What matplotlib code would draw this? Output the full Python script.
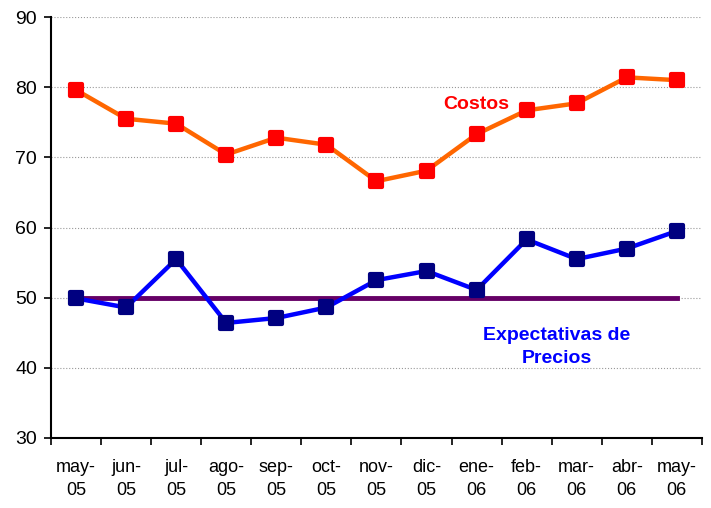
import numpy as np
import matplotlib.pyplot as plt
from matplotlib.markers import MarkerStyle

plt.rcParams['font.family'] = ['Liberation Sans', 'DejaVu Sans']

meses = ['may-\n05', 'jun-\n05', 'jul-\n05', 'ago-\n05', 'sep-\n05', 'oct-\n05', 'nov-\n05',
         'dic-\n05', 'ene-\n06', 'feb-\n06', 'mar-\n06', 'abr-\n06', 'may-\n06']
costos = [79.6, 75.5, 74.8, 70.4, 72.8, 71.8, 66.6, 68.1, 73.3, 76.7, 77.7, 81.4, 81.0]
expectativas = [49.9, 48.6, 55.5, 46.4, 47.1, 48.6, 52.5, 53.8, 51.1, 58.3, 55.5, 57.0, 59.5]
referencia = [50] * len(meses)

x = np.arange(len(meses))

fig = plt.figure(figsize=(7.11, 5.08), dpi=100)
ax = fig.add_axes([0.0717, 0.1378, 0.9155, 0.8287])

mk = MarkerStyle('s', joinstyle='round')
ax.plot(x, referencia, color='#660066', lw=3.5, zorder=2)
ax.plot(x, expectativas, color='#0000FF', lw=3.2, marker=mk, ms=8, mfc='#000080',
        mec='#000080', mew=3, zorder=3)
ax.plot(x, costos, color='#FF6600', lw=3.2, marker=mk, ms=8, mfc='#FF0000',
        mec='#FF0000', mew=3, zorder=3)

ax.text(8.0, 77.6, 'Costos', color='#FF0000', fontsize=14, fontweight='bold',
        ha='center', va='center')
ax.text(9.6, 43.0, 'Expectativas de\nPrecios', color='#0000FF', fontsize=14,
        fontweight='bold', ha='center', va='center', linespacing=1.45)

ax.set_xlim(-0.5, len(meses) - 0.5)
ax.set_ylim(30, 90)
ax.set_yticks(range(30, 91, 10))
ax.set_xticks(x)
ax.set_xticklabels(meses, fontsize=13, linespacing=1.45)
ax.set_xticks(np.arange(-0.5, len(meses)), minor=True)
ax.tick_params(axis='x', which='major', length=0, pad=15)
ax.tick_params(axis='x', which='minor', length=5, width=1.2, direction='out')
ax.tick_params(axis='y', labelsize=14, length=5, width=1.2, pad=5)

ax.yaxis.grid(True, color='#999999', linestyle=':', lw=0.8)
ax.set_axisbelow(True)
for s in ['top', 'right']:
    ax.spines[s].set_visible(False)
ax.spines['left'].set_linewidth(1.5)
ax.spines['bottom'].set_linewidth(1.5)

fig.savefig('out.png', dpi=100)
